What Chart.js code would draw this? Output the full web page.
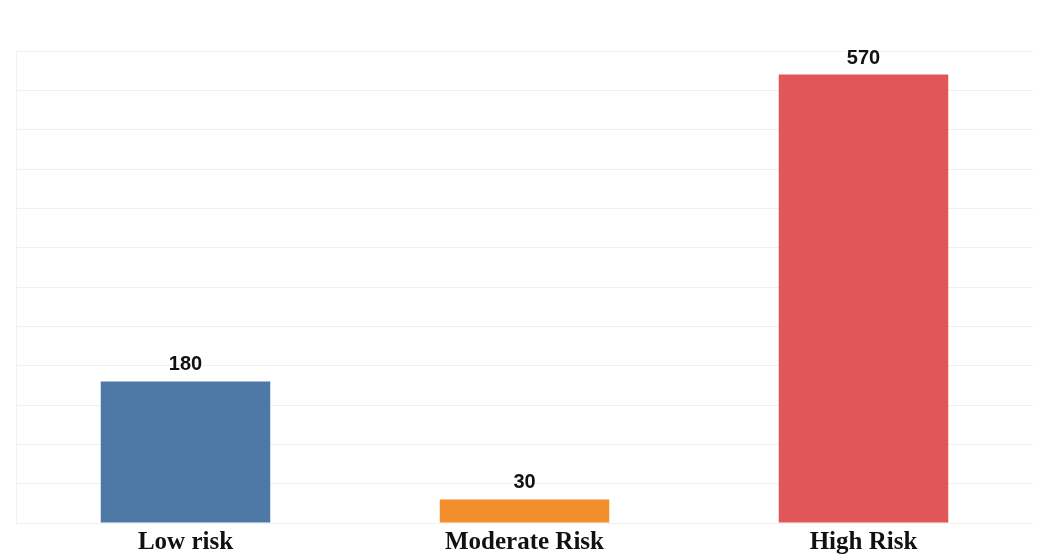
<!DOCTYPE html>
<html>
<head>
<meta charset="utf-8">
<script src="https://cdn.jsdelivr.net/npm/chart.js@4"></script>
<style>
  html, body { margin: 0; padding: 0; background: #fff; }
  #wrap { width: 1045px; height: 555px; }
</style>
</head>
<body>
<div id="wrap"><canvas id="riskChart"></canvas></div>
<script>
const categories = ["Low risk", "Moderate Risk", "High Risk"];
const counts = [180, 30, 570];
const barColors = ["#4e79a7", "#f28e2b", "#e15759"];

// labels above each bar
const valueLabels = {
  id: "valueLabels",
  afterDatasetsDraw(chart) {
    const ctx = chart.ctx;
    const meta = chart.getDatasetMeta(0);
    ctx.save();
    ctx.font = "bold 20px 'Liberation Sans', Arial, sans-serif";
    ctx.fillStyle = "#111";
    ctx.textAlign = "center";
    ctx.textBaseline = "alphabetic";
    meta.data.forEach((bar, i) => {
      ctx.fillText(String(counts[i]), bar.x, bar.y - 11);
    });
    ctx.restore();
  },
};

const ctx = document.getElementById("riskChart").getContext("2d");
new Chart(ctx, {
  type: "bar",
  data: {
    labels: categories,
    datasets: [
      {
        data: counts,
        backgroundColor: barColors,
        borderWidth: 0,
        barPercentage: 0.5,
        categoryPercentage: 1,
      },
    ],
  },
  options: {
    responsive: true,
    maintainAspectRatio: false,
    animation: false,
    layout: { padding: { left: 16, right: 12, top: 51, bottom: -8 } },
    plugins: {
      legend: { display: false },
      tooltip: { enabled: false },
    },
    scales: {
      x: {
        grid: { display: false, drawTicks: false },
        border: { display: false },
        ticks: {
          color: "#111",
          padding: 5,
          font: { family: "'Liberation Serif', 'Times New Roman', serif", size: 25, weight: "bold" },
        },
      },
      y: {
        min: 0,
        max: 600,
        ticks: { display: false, stepSize: 50 },
        grid: { color: "#f1f1f1", lineWidth: 1, drawTicks: false },
        border: { display: true, color: "#f1f1f1" },
      },
    },
  },
  plugins: [valueLabels],
});
</script>
</body>
</html>
